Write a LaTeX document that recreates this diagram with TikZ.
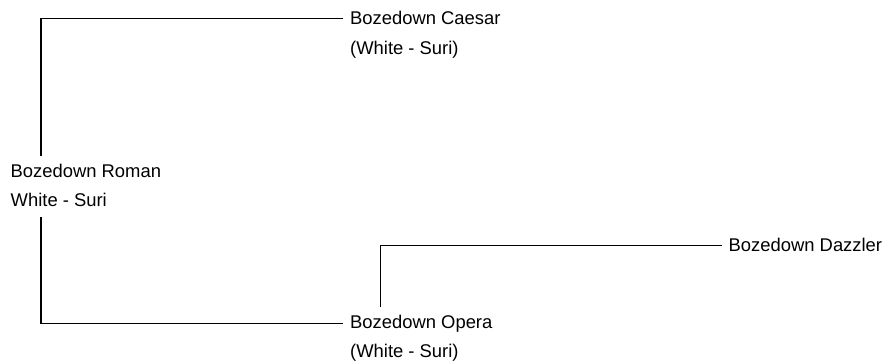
\documentclass[tikz,border=0pt]{standalone}
\usepackage{fontspec}
\setmainfont{Liberation Sans}
\usetikzlibrary{positioning}

\begin{document}
\begin{tikzpicture}[x=1pt, y=-1pt,
        horse/.style={anchor=base west, inner sep=0pt, font=\fontsize{18.4}{22}\selectfont},
        link/.style={line width=1.3pt}]
        \useasboundingbox (0,0) rectangle (886,363);

        % Generation 0
        \node[horse] (roman) at (10.5,178) {Bozedown Roman};
        \node[horse] (romancol) at (10.5,206.5) {White - Suri};

        % Generation 1
        \node[horse] (caesar) at (350,25) {Bozedown Caesar};
        \node[horse] (caesarcol) at (350,54.5) {(White - Suri)};
        \node[horse] (opera) at (350,328) {Bozedown Opera};
        \node[horse] (operacol) at (350,357) {(White - Suri)};

        % Generation 2
        \node[horse] (dazzler) at (728.5,252) {Bozedown Dazzler};

        % Connections
        \draw[link, shorten <=8.5pt, shorten >=7pt] ([xshift=30.5pt]roman.north west) |- (caesar.west);
        \draw[link, shorten <=10.5pt, shorten >=7pt] ([xshift=30.5pt]romancol.south west) |- (opera.west);
        \draw[link, shorten <=7.5pt, shorten >=6.5pt] ([xshift=30.5pt]opera.north west) |- (dazzler.west);
\end{tikzpicture}
\end{document}
